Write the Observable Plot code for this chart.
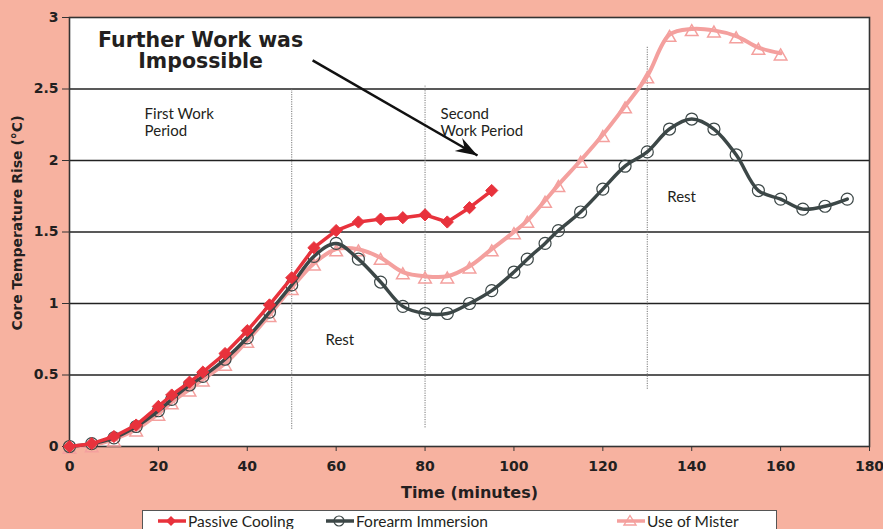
<!DOCTYPE html>
<html>
<head>
<meta charset="utf-8">
<script src="https://cdn.jsdelivr.net/npm/d3@7"></script>
<script src="https://cdn.jsdelivr.net/npm/@observablehq/plot@0.6"></script>
<style>
  html, body { margin: 0; padding: 0; background: #f7b2a0; width: 883px; height: 529px; overflow: hidden; }
  #chart { position: absolute; left: 0; top: 0; }
  #legend { position: absolute; left: 142px; top: 510px; width: 633px; height: 30px; background: #fff;
            border: 1.5px solid #555; font-family: Lato, sans-serif; font-size: 15.5px; color: #231f20; }
  .item { position: absolute; top: 1px; display: flex; align-items: center; white-space: nowrap; }
  .item svg { margin-right: 1px; }
</style>
</head>
<body>
<div id="chart"></div>
<div id="legend"></div>
<script>
// ---- data ----
const timePassive = [0,5,10,15,20,23,27,30,35,40,45,50,55,60,65,70,75,80,85,90,95];
const passiveCooling = [0,0.02,0.07,0.15,0.28,0.36,0.45,0.52,0.65,0.81,0.99,1.18,1.39,1.51,1.57,1.59,1.6,1.62,1.57,1.67,1.79];

const timeForearm = [0,5,10,15,20,23,27,30,35,40,45,50,55,60,65,70,75,80,85,90,95,100,103,107,110,115,120,125,130,135,140,145,150,155,160,165,170,175];
const forearmImmersion = [0,0.02,0.06,0.14,0.25,0.33,0.43,0.49,0.61,0.76,0.94,1.13,1.33,1.42,1.31,1.15,0.98,0.93,0.93,1.0,1.09,1.22,1.31,1.42,1.51,1.64,1.8,1.96,2.06,2.22,2.29,2.22,2.04,1.79,1.73,1.66,1.68,1.73];

const timeMister = [0,5,10,15,20,23,27,30,35,40,45,50,55,60,65,70,75,80,85,90,95,100,103,107,110,115,120,125,130,135,140,145,150,155,160];
const useOfMister = [0,0.01,0.05,0.12,0.23,0.31,0.4,0.47,0.58,0.74,0.92,1.11,1.28,1.38,1.38,1.32,1.22,1.19,1.19,1.26,1.38,1.5,1.58,1.72,1.83,2.0,2.18,2.38,2.59,2.88,2.92,2.91,2.87,2.79,2.75];

const seriesNames = ["Passive Cooling", "Forearm Immersion", "Use of Mister"];
const seriesColors = ["#e8323c", "#3c4747", "#f4a09e"];

const xTicks = [0,20,40,60,80,100,120,140,160,180];
const yTicks = [0,0.5,1,1.5,2,2.5,3];
const gridY = [0.5,1,1.5,2,2.5];

// rest-period dividers
const dividerX = [50, 80, 130];
const dividerTop = [2.5, 2.52, 2.8];
const dividerBottom = [0.12, 0.13, 0.4];

// region labels
const regionText = ["First Work\nPeriod", "Second\nWork Period", "Rest", "Rest"];
const regionX = [16.9, 83.5, 57.6, 134.5];
const regionY = [2.27, 2.27, 0.75, 1.75];

// annotation
const noteText = ["Further Work was\nImpossible"];
const noteX = [29.5];
const noteY = [2.77];
const arrowFrom = [54.7, 2.70];
const arrowTo = [91.8, 2.035];

// ---- build ----
const passive = timePassive.map((t, i) => ({t, v: passiveCooling[i]}));
const forearm = timeForearm.map((t, i) => ({t, v: forearmImmersion[i]}));
const mister = timeMister.map((t, i) => ({t, v: useOfMister[i]}));
const dividers = dividerX.map((x, i) => ({x, y1: dividerBottom[i], y2: dividerTop[i]}));
const regions = regionText.map((s, i) => ({s, x: regionX[i], y: regionY[i]}));

const arrowHead = {
  draw(ctx, size) {
    const L = 22, W = 15, N = 15;
    ctx.moveTo(0, 0);
    ctx.lineTo(-L, -W / 2);
    ctx.lineTo(-N, 0);
    ctx.lineTo(-L, W / 2);
    ctx.closePath();
  }
};

const boldFont = "'DejaVu Sans', sans-serif";

const chart = Plot.plot({
  width: 883,
  height: 508,
  marginTop: 17,
  marginRight: 14,
  marginBottom: 62,
  marginLeft: 69,
  style: {background: "transparent", fontFamily: "Lato, sans-serif", color: "#231f20"},
  x: {domain: [0, 180]},
  y: {domain: [0, 3]},
  marks: [
    Plot.frame({fill: "white", stroke: null}),
    Plot.ruleY(gridY, {stroke: "#222", strokeWidth: 1.6}),
    Plot.ruleX(dividers, {x: "x", y1: "y1", y2: "y2", stroke: "#777", strokeWidth: 1, strokeDasharray: "1.2,1.2"}),
    Plot.frame({stroke: "#333", strokeWidth: 1.6}),
    Plot.axisX({ticks: xTicks, tickFormat: d => String(d), tickSize: 5, tickPadding: 10, fontSize: 14, fontWeight: 700, fontFamily: boldFont, label: null, stroke: "#333"}),
    Plot.axisY({ticks: yTicks, tickFormat: d => String(d), tickSize: 7, tickPadding: 4, fontSize: 14, fontWeight: 700, fontFamily: boldFont, label: null, stroke: "#333"}),
    Plot.text(["Time (minutes)"], {frameAnchor: "bottom", dy: 46, lineAnchor: "middle", textAnchor: "middle", fontSize: 16, fontWeight: 700, fontFamily: boldFont}),
    Plot.text(["Core Temperature Rise (°C)"], {frameAnchor: "left", dx: -52, dy: -9, rotate: -90, textAnchor: "middle", lineAnchor: "middle", fontSize: 14, fontWeight: 700, fontFamily: boldFont}),
    // series
    Plot.line(mister, {x: "t", y: "v", stroke: seriesColors[2], strokeWidth: 4, curve: "catmull-rom"}),
    Plot.dot(mister, {x: "t", y: "v", symbol: "triangle2", r: 6, stroke: seriesColors[2], strokeWidth: 1.5, dy: 3}),
    Plot.line(forearm, {x: "t", y: "v", stroke: seriesColors[1], strokeWidth: 3.5, curve: "catmull-rom"}),
    Plot.dot(forearm, {x: "t", y: "v", symbol: "circle", r: 6, stroke: seriesColors[1], strokeWidth: 1.2, fill: "none"}),
    Plot.line(passive, {x: "t", y: "v", stroke: seriesColors[0], strokeWidth: 3.5}),
    Plot.dot(passive, {x: "t", y: "v", symbol: "diamond2", r: 5.5, fill: seriesColors[0], stroke: seriesColors[0], strokeWidth: 1}),
    // labels
    Plot.text(regions, {x: "x", y: "y", text: "s", textAnchor: "start", lineAnchor: "middle", fontSize: 15, lineHeight: 1.15, fill: "#231f20"}),
    Plot.text(noteText, {x: noteX, y: noteY, text: d => d, textAnchor: "middle", lineAnchor: "middle", fontSize: 20.5, fontWeight: 700, fontFamily: boldFont, lineHeight: 1.03, fill: "#231f20"}),
    Plot.link([0], {x1: () => arrowFrom[0], y1: () => arrowFrom[1], x2: () => arrowTo[0], y2: () => arrowTo[1], stroke: "#111", strokeWidth: 2.5}),
    Plot.dot([0], {x: () => arrowTo[0], y: () => arrowTo[1], symbol: arrowHead, r: 5, fill: "#111", stroke: "none", rotate: 30})
  ]
});
document.getElementById("chart").appendChild(chart);

// ---- legend ----
const legend = document.getElementById("legend");
const legendLeft = [14, 182, 473];
const symbols = [
  c => `<path d="M14,4 L19,9 L14,14 L9,9 Z" fill="${c}"/>`,
  c => `<circle cx="14" cy="9" r="5" fill="none" stroke="${c}" stroke-width="1.2"/>`,
  c => `<path d="M14,3.5 L20,13 L8,13 Z" fill="none" stroke="${c}" stroke-width="1.4"/>`
];
seriesNames.forEach((name, i) => {
  const div = document.createElement("div");
  div.className = "item";
  div.style.left = legendLeft[i] + "px";
  div.innerHTML = `<svg width="30" height="18"><line x1="1" x2="29" y1="9" y2="9" stroke="${seriesColors[i]}" stroke-width="3.5"/>${symbols[i](seriesColors[i])}</svg><span>${name}</span>`;
  legend.appendChild(div);
});
</script>
</body>
</html>
